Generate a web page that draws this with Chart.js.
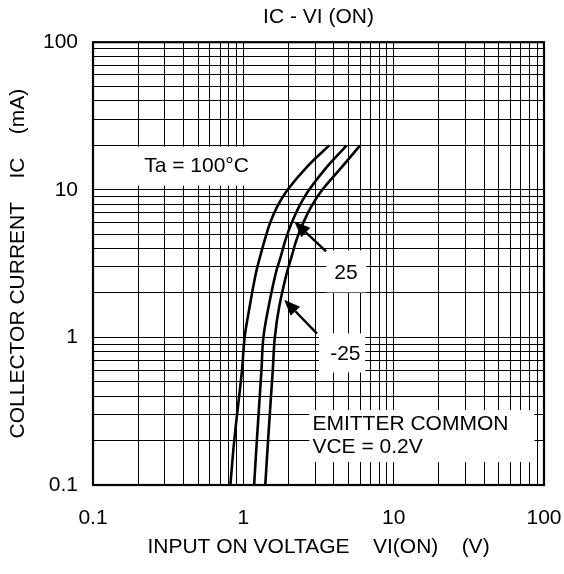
<!DOCTYPE html>
<html>
<head>
<meta charset="utf-8">
<script src="https://cdn.jsdelivr.net/npm/chart.js@4"></script>
<style>
  body { margin: 0; background: #fff; }
  canvas { display: block; }
</style>
</head>
<body>
<canvas id="chart" width="564" height="574"></canvas>
<script>
// axis decades and their labels
const decades = [0.1, 1, 10, 100];
const decadeLabels = ['0.1', '1', '10', '100'];
const minorSteps = [1, 2, 3, 4, 5, 6, 7, 8, 9];

// collector current read points (mA), shared by the three curves
const icPoints = [0.1, 0.2, 0.6, 1.0, 1.6, 2.7, 3.5, 4.6, 6.0, 7.7, 10, 14.4, 20];
// input on voltage (V) at those currents
const vi100 = [0.82, 0.87, 0.98, 1.02, 1.10, 1.21, 1.29, 1.39, 1.51, 1.68, 1.97, 2.67, 3.73];
const vi25 = [1.18, 1.23, 1.32, 1.36, 1.47, 1.64, 1.77, 1.91, 2.10, 2.35, 2.74, 3.62, 4.87];
const viM25 = [1.40, 1.46, 1.57, 1.62, 1.73, 1.94, 2.09, 2.26, 2.51, 2.83, 3.35, 4.56, 5.98];

// text notes on the plot (anchor in data units, box in px around the anchor)
const notes = [
  { lines: ['Ta = 100°C'], x: 0.219, y: 14.8, box: [-52, -18, 158, 39] },
  { lines: ['25'], x: 4.03, y: 2.80, box: [-8, -21, 40, 42] },
  { lines: ['-25'], x: 3.78, y: 0.791, box: [-11, -19, 46, 39] },
  { lines: ['EMITTER COMMON', 'VCE = 0.2V'], x: 2.88, y: 0.267, box: [-3, -12, 225, 52] }
];
// pointer arrows: from tail to tip, in data units
const arrows = [
  { from: [3.55, 3.82], to: [2.18, 6.10] },
  { from: [3.09, 1.06], to: [1.87, 1.80] }
];

const FONT = '"Liberation Sans", Arial, sans-serif';
const SIZE = 21;

function toPoints(xs, ys) {
  return xs.map((v, i) => ({ x: v, y: ys[i] }));
}

function gridValues() {
  const vals = [];
  decades.forEach((d, i) => {
    if (i === decades.length - 1) {
      vals.push(d);
      return;
    }
    minorSteps.forEach(m => vals.push(Number((m * d).toPrecision(2))));
  });
  return vals;
}

function tickLabel(value) {
  const i = decades.findIndex(d => Math.abs(d - value) < d * 1e-6);
  return i >= 0 ? decadeLabels[i] : '';
}

const curveStyle = {
  borderColor: '#000',
  borderWidth: 2.6,
  pointRadius: 0,
  fill: false,
  tension: 0.4
};

const notesPlugin = {
  id: 'notes',
  beforeDatasetsDraw(chart) {
    const { ctx, scales: { x, y } } = chart;
    ctx.save();
    ctx.font = SIZE + 'px ' + FONT;
    ctx.textAlign = 'left';
    ctx.textBaseline = 'middle';
    notes.forEach(n => {
      const px = x.getPixelForValue(n.x);
      const py = y.getPixelForValue(n.y);
      ctx.fillStyle = '#fff';
      ctx.fillRect(px + n.box[0], py + n.box[1], n.box[2], n.box[3]);
      ctx.fillStyle = '#000';
      // +2 nudges the cap height centre onto the anchor
      n.lines.forEach((t, i) => ctx.fillText(t, px, py + 2 + i * 23));
    });
    ctx.restore();
  },
  afterDatasetsDraw(chart) {
    const { ctx, chartArea: a, scales: { x, y } } = chart;
    ctx.save();
    ctx.strokeStyle = '#000';
    ctx.fillStyle = '#000';
    arrows.forEach(ar => {
      const x0 = x.getPixelForValue(ar.from[0]), y0 = y.getPixelForValue(ar.from[1]);
      const x1 = x.getPixelForValue(ar.to[0]), y1 = y.getPixelForValue(ar.to[1]);
      const ang = Math.atan2(y1 - y0, x1 - x0);
      const head = 16, half = 6.5;
      const bx = x1 - head * Math.cos(ang), by = y1 - head * Math.sin(ang);
      ctx.lineWidth = 2.4;
      ctx.beginPath();
      ctx.moveTo(x0, y0);
      ctx.lineTo(bx, by);
      ctx.stroke();
      ctx.beginPath();
      ctx.moveTo(x1, y1);
      ctx.lineTo(bx + half * Math.sin(ang), by - half * Math.cos(ang));
      ctx.lineTo(bx - half * Math.sin(ang), by + half * Math.cos(ang));
      ctx.closePath();
      ctx.fill();
    });
    // plot frame
    ctx.lineWidth = 2.2;
    ctx.strokeRect(a.left, a.top, a.right - a.left, a.bottom - a.top);
    ctx.restore();
  }
};

const ticksFor = () => gridValues().map(v => ({ value: v }));

new Chart(document.getElementById('chart'), {
  type: 'line',
  data: {
    datasets: [
      Object.assign({ label: 'Ta = 100°C', data: toPoints(vi100, icPoints) }, curveStyle),
      Object.assign({ label: '25', data: toPoints(vi25, icPoints) }, curveStyle),
      Object.assign({ label: '-25', data: toPoints(viM25, icPoints) }, curveStyle)
    ]
  },
  options: {
    responsive: false,
    animation: false,
    layout: { padding: { left: 0, right: 20, top: 0, bottom: 0 } },
    plugins: {
      legend: { display: false },
      tooltip: { enabled: false },
      title: {
        display: true,
        text: 'IC - VI (ON)',
        color: '#000',
        fullSize: false,
        font: { family: FONT, size: SIZE, weight: 'normal' },
        padding: { top: 5, bottom: 12 }
      }
    },
    scales: {
      x: {
        type: 'logarithmic',
        min: 0.1,
        max: 100,
        afterBuildTicks: s => { s.ticks = ticksFor(); },
        afterFit: s => { s.height = 89; s.paddingLeft = 0; s.paddingRight = 0; },
        grid: { color: '#000', lineWidth: 1, drawTicks: false },
        border: { display: false },
        ticks: {
          autoSkip: false,
          maxRotation: 0,
          padding: 21,
          color: '#000',
          font: { family: FONT, size: SIZE },
          callback: v => tickLabel(v)
        },
        title: {
          display: true,
          text: 'INPUT ON VOLTAGE    VI(ON)    (V)',
          color: '#000',
          font: { family: FONT, size: SIZE },
          padding: { top: 0, bottom: 14 }
        }
      },
      y: {
        type: 'logarithmic',
        min: 0.1,
        max: 100,
        afterBuildTicks: s => { s.ticks = ticksFor(); },
        afterFit: s => { s.width = 93; s.paddingTop = 0; s.paddingBottom = 0; },
        grid: { color: '#000', lineWidth: 1, drawTicks: false },
        border: { display: false },
        ticks: {
          autoSkip: false,
          padding: 15,
          color: '#000',
          font: { family: FONT, size: SIZE },
          callback: v => tickLabel(v)
        },
        title: {
          display: true,
          text: 'COLLECTOR CURRENT    IC    (mA)',
          color: '#000',
          font: { family: FONT, size: SIZE },
          padding: { top: 6, bottom: 0 }
        }
      }
    }
  },
  plugins: [notesPlugin]
});
</script>
</body>
</html>
